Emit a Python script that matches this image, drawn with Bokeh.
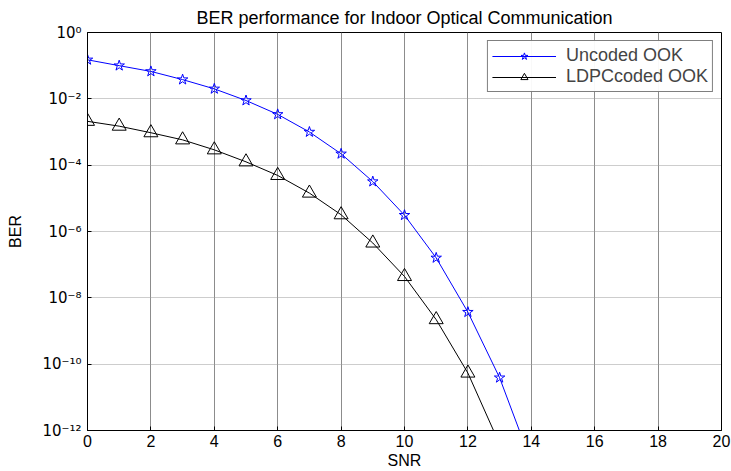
from bokeh.plotting import figure
from bokeh.models import FixedTicker, Legend, LegendItem, Range1d
from bokeh.embed import file_html
from bokeh.resources import INLINE

snr_uncoded = [0, 1, 2, 3, 4, 5, 6, 7, 8, 9, 10, 11, 12, 13, 14]
ber_uncoded = [0.15, 0.10, 0.067, 0.038, 0.020, 0.0089, 0.0034, 1.0e-3, 2.2e-4,
               3.2e-5, 3.1e-6, 1.6e-7, 3.7e-9, 3.9e-11, 1.1e-13]
snr_ldpc = [0, 1, 2, 3, 4, 5, 6, 7, 8, 9, 10, 11, 12, 13]
ber_ldpc = [2.1e-3, 1.5e-3, 9.5e-4, 5.8e-4, 2.9e-4, 1.26e-4, 4.9e-5, 1.44e-5,
            3.2e-6, 4.5e-7, 4.4e-8, 2.2e-9, 5.4e-11, 3.9e-13]
# markers are shown only at points inside the axes
x_ticks = [0, 2, 4, 6, 8, 10, 12, 14, 16, 18, 20]
y_ticks = [1e-12, 1e-10, 1e-8, 1e-6, 1e-4, 1e-2, 1]
y_tick_labels = ["10\u207b\u00b9\u00b2", "10\u207b\u00b9\u2070", "10\u207b\u2078",
                 "10\u207b\u2076", "10\u207b\u2074", "10\u207b\u00b2", "10\u2070"]

FONT = "Liberation Sans"

p = figure(width=731, height=471, y_axis_type="log", output_backend="svg",
           toolbar_location=None, x_range=Range1d(0, 20), y_range=Range1d(1e-12, 1),
           min_border_left=87, min_border_right=10, min_border_top=32, min_border_bottom=41,
           title="BER performance for Indoor Optical Communication")
p.title.align = "center"
p.title.text_font = FONT
p.title.text_font_size = "18px"
p.title.text_font_style = "normal"
p.title.text_color = "black"
p.title.offset = -10
p.title.standoff = 9

p.outline_line_color = "black"
p.outline_line_width = 1

for ax in p.xaxis:
    ax.ticker = FixedTicker(ticks=x_ticks)
    ax.axis_label = "SNR"
    ax.major_label_standoff = 4
    ax.axis_label_standoff = 2
    ax.major_label_text_font = FONT
    ax.major_label_text_font_size = "16px"
for ax in p.yaxis:
    ax.ticker = FixedTicker(ticks=y_ticks)
    ax.major_label_overrides = {t: l for t, l in zip(y_ticks, y_tick_labels)}
    ax.axis_label = "BER"
    ax.major_label_standoff = 6
    ax.axis_label_standoff = 15
    ax.major_label_text_font = "DejaVu Sans"
    ax.major_label_text_font_size = "15px"
for ax in p.xaxis + p.yaxis:
    ax.major_tick_in = 4
    ax.major_tick_out = 0
    ax.minor_tick_line_color = None
    ax.axis_line_color = "black"
    ax.major_tick_line_color = "black"
    ax.major_label_text_color = "black"
    ax.axis_label_text_font = FONT
    ax.axis_label_text_font_size = "16px"
    ax.axis_label_text_font_style = "normal"
    ax.axis_label_text_color = "black"

p.xgrid.grid_line_color = "#8c8c8c"
p.xgrid.grid_line_width = 1
p.ygrid.grid_line_color = "#9a9a9a"
p.ygrid.grid_line_dash = "1 1"
p.ygrid.grid_line_width = 1
p.xgrid.ticker = FixedTicker(ticks=x_ticks)
p.ygrid.ticker = FixedTicker(ticks=y_ticks)

l1 = p.line(snr_uncoded, ber_uncoded, line_color="blue", line_width=1)
s1 = p.scatter(snr_uncoded[:-1], ber_uncoded[:-1], marker="star", size=11,
               line_color="blue", fill_color=None, line_width=1)
l2 = p.line(snr_ldpc, ber_ldpc, line_color="black", line_width=1)
s2 = p.scatter(snr_ldpc[:-1], ber_ldpc[:-1], marker="triangle", size=14,
               line_color="black", fill_color=None, line_width=1)

legend = Legend(items=[LegendItem(label="Uncoded OOK", renderers=[l1, s1]),
                       LegendItem(label="LDPCcoded OOK", renderers=[l2, s2])],
                location="top_right")
legend.border_line_color = "black"
legend.border_line_width = 1
legend.label_text_font = FONT
legend.label_text_font_size = "18px"
legend.label_height = 18
legend.glyph_height = 18
legend.glyph_width = 64
legend.spacing = 0
legend.padding = 4
legend.margin = 8
legend.label_standoff = 10
p.add_layout(legend)

open("out.html", "w").write(file_html(p, INLINE))
